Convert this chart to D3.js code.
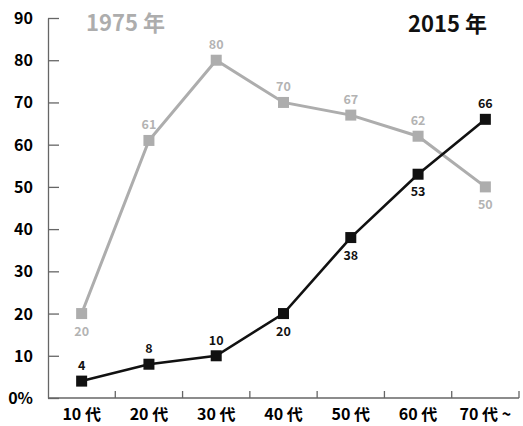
<!DOCTYPE html>
<html>
<head>
<meta charset="utf-8">
<script src="https://cdn.jsdelivr.net/npm/d3@7"></script>
<style>
  body { margin: 0; background: #fff; }
  svg { display: block; font-family: "Noto Sans CJK JP", "Noto Sans", sans-serif; }
</style>
</head>
<body>
<svg id="chart" width="523" height="426"></svg>
<script>
// age groups and the two survey years
let ages = ['10 代', '20 代', '30 代', '40 代', '50 代', '60 代', '70 代 ~']
let values1975 = [20, 61, 80, 70, 67, 62, 50]
let values2015 = [4, 8, 10, 20, 38, 53, 66]
let yTicks = [0, 10, 20, 30, 40, 50, 60, 70, 80, 90]
// label goes below the point (true) or above (false)
let below1975 = [true, false, false, false, false, false, true]
let below2015 = [false, false, false, true, true, true, false]

let svg = d3.select('#chart')
let plotLeft = 48, plotRight = 519, plotTop = 18, plotBottom = 398
let grey = '#adadad'

let x = d3.scaleBand().domain(ages).range([plotLeft, plotRight])
let y = d3.scaleLinear().domain([0, 90]).range([plotBottom, plotTop])

// y axis with inner ticks
let yAxis = svg.append('g')
  .attr('transform', `translate(${plotLeft},0)`)
  .call(d3.axisRight(y).tickValues(yTicks).tickSize(11).tickSizeOuter(0).tickFormat(''))
yAxis.select('.domain').attr('stroke', '#666').attr('stroke-width', 1.3)
yAxis.selectAll('.tick line').attr('stroke', '#666').attr('stroke-width', 1.3)

svg.selectAll('.ylab')
  .data(yTicks)
  .enter().append('text')
  .attr('x', 33)
  .attr('y', d => y(d) + 6)
  .attr('text-anchor', 'end')
  .style('font-size', '16px')
  .style('font-weight', 'bold')
  .text(d => d === 0 ? '0%' : d)

// x axis, ticks pointing up at band edges
let xAxis = svg.append('g').attr('transform', `translate(0,${plotBottom})`)
xAxis.append('line')
  .attr('x1', plotLeft).attr('x2', plotRight)
  .attr('stroke', '#666').attr('stroke-width', 1.3)
xAxis.selectAll('.xt')
  .data(ages)
  .enter().append('line')
  .attr('x1', d => x(d) + x.bandwidth()).attr('x2', d => x(d) + x.bandwidth())
  .attr('y1', 0).attr('y2', -7)
  .attr('stroke', '#666').attr('stroke-width', 1.3)

svg.selectAll('.xlab')
  .data(ages)
  .enter().append('text')
  .attr('x', d => x(d) + x.bandwidth() / 2)
  .attr('y', 420)
  .attr('text-anchor', 'middle')
  .style('font-size', '16px')
  .style('font-weight', 'bold')
  .text(d => d)

let cx = (d, i) => x(ages[i]) + x.bandwidth() / 2

function drawSeries(vals, below, color, lw, labelColor) {
  let line = d3.line().x(cx).y(d => y(d))
  svg.append('path')
    .datum(vals)
    .attr('d', line)
    .attr('fill', 'none')
    .attr('stroke', color)
    .attr('stroke-width', lw)
  svg.append('g').selectAll('rect')
    .data(vals)
    .enter().append('rect')
    .attr('x', (d, i) => cx(d, i) - 5.5)
    .attr('y', d => y(d) - 5.5)
    .attr('width', 11).attr('height', 11)
    .attr('fill', color)
  svg.append('g').selectAll('text')
    .data(vals)
    .enter().append('text')
    .attr('x', cx)
    .attr('y', (d, i) => below[i] ? y(d) + 22 : y(d) - 11)
    .attr('text-anchor', 'middle')
    .style('font-size', '12.5px')
    .style('font-weight', 'bold')
    .attr('fill', labelColor)
    .text(d => d)
}

drawSeries(values1975, below1975, grey, 3, '#b3b3b3')
drawSeries(values2015, below2015, '#111', 2.6, '#111')

// series titles
svg.append('text')
  .attr('x', 86).attr('y', 31)
  .style('font-size', '22px').style('font-weight', 'bold')
  .attr('fill', grey)
  .text('1975 年')
svg.append('text')
  .attr('x', 408).attr('y', 32)
  .style('font-size', '22px').style('font-weight', 'bold')
  .attr('fill', '#111')
  .text('2015 年')
</script>
</body>
</html>
